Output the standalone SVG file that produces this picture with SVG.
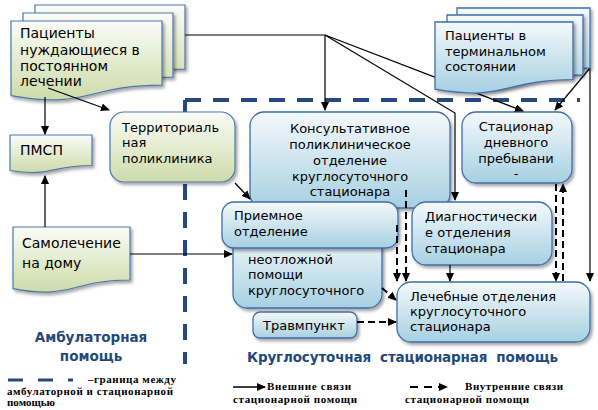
<svg xmlns="http://www.w3.org/2000/svg" width="598" height="410" viewBox="0 0 598 410">
<defs>
<linearGradient id="gGreen" x1="0" y1="0" x2="0" y2="1">
<stop offset="0" stop-color="#fbfcf7"/><stop offset="1" stop-color="#cddba9"/>
</linearGradient>
<linearGradient id="gBlue" x1="0" y1="0" x2="0" y2="1">
<stop offset="0" stop-color="#f4f9fb"/><stop offset="1" stop-color="#a6d0e2"/>
</linearGradient>
<filter id="sh" x="-10%" y="-10%" width="130%" height="140%">
<feDropShadow dx="2" dy="2.5" stdDeviation="1.6" flood-color="#000" flood-opacity="0.35"/>
</filter>
<marker id="ah" markerUnits="userSpaceOnUse" markerWidth="9" markerHeight="8" refX="8" refY="4" orient="auto">
<path d="M0,0 L9,4 L0,8 Z" fill="#000"/>
</marker>
</defs>
<style>
.green{fill:url(#gGreen);stroke:#4a78b0;stroke-width:1.2;filter:url(#sh)}
.blue{fill:url(#gBlue);stroke:#3f6ea8;stroke-width:1.3;filter:url(#sh)}
.t{font-family:"DejaVu Sans",sans-serif;font-size:13px;fill:#000}
.tb{font-family:"DejaVu Sans",sans-serif;font-size:14px;fill:#000}
.c{fill:none;stroke:#000;stroke-width:1.2;marker-end:url(#ah)}
.d{fill:none;stroke:#000;stroke-width:2;stroke-dasharray:7 4;marker-end:url(#ah)}
.bnd{fill:none;stroke:#24497f;stroke-width:4;stroke-dasharray:16 12}
.lbl{font-family:"DejaVu Sans",sans-serif;font-weight:bold;font-size:13.5px;fill:#1f497d}
.lg{font-family:"Liberation Serif",serif;font-weight:bold;font-size:11px;fill:#000}
</style>

<g id="boundary">
<path class="bnd" d="M185,100 H580"/>
<path class="bnd" d="M185,100 V364"/>
</g>

<g id="patients-left">
<path class="green" d="M35,5 H185 V69.2 C110,69.2 110,93.6 35,79.7 Z"/>
<path class="green" d="M23,13 H173 V77.2 C98,77.2 98,101.6 23,87.7 Z"/>
<path class="green" d="M11,21 H162 V85.2 C86.5,85.2 86.5,109.6 11,95.7 Z"/>
<text class="tb" x="20" y="38">Пациенты</text>
<text class="tb" x="20" y="55">нуждающиеся в</text>
<text class="tb" x="20" y="71">постоянном</text>
<text class="tb" x="20" y="86">лечении</text>
</g>

<g id="pmsp">
<path class="green" d="M10,135 H92 V165.5 C51,165.5 51,177 10,170.5 Z"/>
<text class="tb" x="20" y="155">ПМСП</text>
</g>

<g id="selftreat">
<path class="green" d="M13,227 H130 V280 C71.5,280 71.5,300 13,288.6 Z"/>
<text class="tb" x="22" y="248">Самолечение</text>
<text class="tb" x="22" y="268">на дому</text>
</g>

<g id="territorial">
<rect class="green" x="110" y="112" width="125" height="70" rx="14"/>
<text class="t" x="122" y="132">Территориаль</text>
<text class="t" x="122" y="147">ная</text>
<text class="t" x="122" y="163">поликлиника</text>
</g>

<g id="consult">
<rect class="blue" x="250" y="112" width="200" height="96" rx="14"/>
<text class="t" x="350" y="133" text-anchor="middle">Консультативное</text>
<text class="t" x="350" y="149" text-anchor="middle">поликлиническое</text>
<text class="t" x="350" y="165" text-anchor="middle">отделение</text>
<text class="t" x="350" y="181" text-anchor="middle">круглосуточного</text>
<text class="t" x="350" y="196" text-anchor="middle">стационара</text>
</g>

<g id="dayhospital">
<rect class="blue" x="462" y="112" width="110" height="71" rx="14"/>
<text class="t" x="516" y="131" text-anchor="middle">Стационар</text>
<text class="t" x="516" y="147" text-anchor="middle">дневного</text>
<text class="t" x="516" y="163" text-anchor="middle">пребывани</text>
<text class="t" x="516" y="178" text-anchor="middle" font-size="11">-</text>
</g>

<g id="emergency">
<rect class="blue" x="233" y="232" width="149" height="76" rx="14"/>
<text class="t" x="248" y="264">неотложной</text>
<text class="t" x="248" y="279">помощи</text>
<text class="t" x="248" y="295">круглосуточного</text>
</g>

<g id="reception">
<rect class="blue" x="222" y="202" width="176" height="46" rx="12"/>
<text class="t" x="234" y="220">Приемное</text>
<text class="t" x="234" y="236">отделение</text>
</g>

<g id="diagnostic">
<rect class="blue" x="412" y="202" width="140" height="63" rx="14"/>
<text class="t" x="425" y="221">Диагностически</text>
<text class="t" x="425" y="237">е отделения</text>
<text class="t" x="425" y="253">стационара</text>
</g>

<g id="trauma">
<rect class="blue" x="253" y="312" width="104" height="26" rx="7"/>
<text class="t" x="263" y="330">Травмпункт</text>
</g>

<g id="treatment">
<rect class="blue" x="397" y="282" width="193" height="60" rx="14"/>
<text class="t" x="410" y="301">Лечебные  отделения</text>
<text class="t" x="410" y="316">круглосуточного</text>
<text class="t" x="410" y="331">стационара</text>
</g>

<g id="connectors">
<path class="c" d="M185,35 H325 V110"/>
<path class="c" d="M325,35 L523,111"/>
<path class="c" d="M325,35 L455,113 V200"/>
<path class="c" d="M590,68 L555,110"/>
<path class="c" d="M590,68 V281"/>
<path class="c" d="M48,88 L109,110"/>
<path class="c" d="M45,97 V134"/>
<path class="c" d="M45,227 V176"/>
<path class="c" d="M130,254 H232"/>
<path class="c" d="M235,183 L250,199"/>
<path class="c" d="M450,265 V281"/>
<path class="d" d="M397,225 V281"/>
<path class="d" d="M406,190 V281"/>
<path class="d" d="M382,288 L396,300"/>
<path class="d" d="M357,322 H396"/>
<path class="d" d="M556,184 V281"/>
<path class="d" d="M563,281 V184"/>
</g>

<g id="patients-right">
<path class="blue" d="M457,8 H590 V68 C523.5,68 523.5,91 457,78 Z"/>
<path class="blue" d="M447,15 H583 V75 C515,75 515,98 447,85 Z"/>
<path class="blue" d="M435,22 H573 V79.7 C504,79.7 504,101.7 435,89.2 Z"/>
<text class="t" x="445" y="40">Пациенты в</text>
<text class="t" x="445" y="56">терминальном</text>
<text class="t" x="445" y="71">состоянии</text>
</g>

<g id="labels">
<text class="lbl" x="91" y="342" text-anchor="middle">Амбулаторная</text>
<text class="lbl" x="91" y="361" text-anchor="middle">помощь</text>
<text class="lbl" x="247" y="362" textLength="311" xml:space="preserve">Круглосуточная  стационарная  помощь</text>
</g>

<g id="legend">
<path d="M8,380 H73" stroke="#24497f" stroke-width="3" stroke-dasharray="15 15" fill="none"/>
<text class="lg" x="88" y="383" textLength="88">–граница между</text>
<text class="lg" x="7" y="395" textLength="166">амбулаторной и стационарной</text>
<text class="lg" x="7" y="406">помощью</text>
<path d="M233,387 H265" stroke="#000" stroke-width="1.5" fill="none" marker-end="url(#ah)"/>
<text class="lg" x="267" y="390" textLength="84">Внешние связи</text>
<text class="lg" x="233" y="403" textLength="124">стационарной помощи</text>
<path d="M410,387 H447" stroke="#000" stroke-width="2" stroke-dasharray="8 6" fill="none" marker-end="url(#ah)"/>
<text class="lg" x="465" y="390" textLength="98">Внутренние связи</text>
<text class="lg" x="405" y="403" textLength="124">стационарной помощи</text>
</g>
</svg>
